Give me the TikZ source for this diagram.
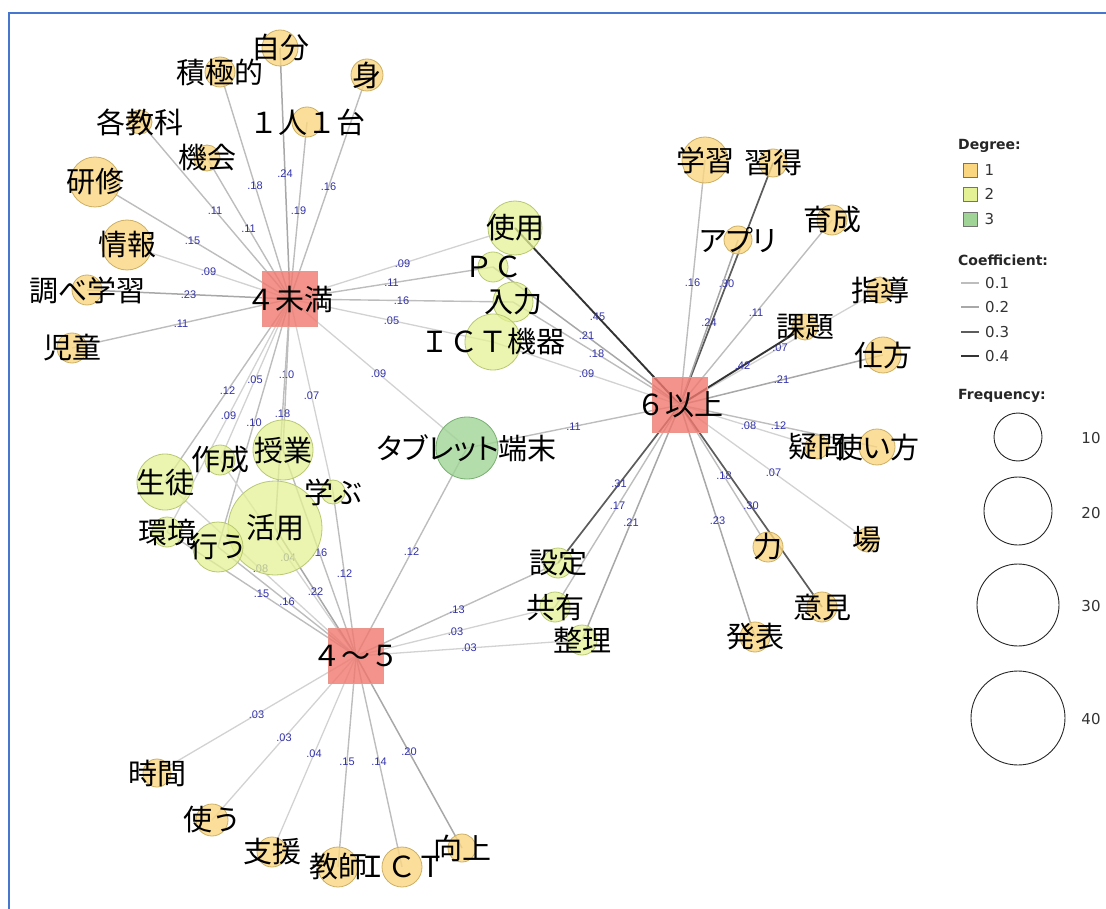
\documentclass[tikz,border=0pt]{standalone}
\usepackage{fontspec}
\newfontfamily\jpfont{Noto Sans CJK JP}
\newfontfamily\jpkana[RawFeature=+palt]{Noto Sans CJK JP}
\newfontfamily\numfont{Liberation Sans}
\newfontfamily\legfont{DejaVu Sans}
\usetikzlibrary{positioning,backgrounds}
\definecolor{deg1}{RGB}{250,214,128}
\definecolor{deg1line}{RGB}{205,175,100}
\definecolor{deg2}{RGB}{228,241,148}
\definecolor{deg2line}{RGB}{185,200,115}
\definecolor{deg3}{RGB}{160,212,150}
\definecolor{deg3line}{RGB}{120,175,112}
\definecolor{grpfill}{RGB}{240,120,110}
\definecolor{grpline}{RGB}{235,150,140}
\definecolor{coefblue}{RGB}{50,50,170}
\definecolor{framblue}{RGB}{70,118,205}

\tikzset{
  w1/.style={circle,draw=deg1line,fill=deg1,fill opacity=0.8,line width=0.8pt,inner sep=0pt},
  w2/.style={circle,draw=deg2line,fill=deg2,fill opacity=0.75,line width=0.8pt,inner sep=0pt},
  w3/.style={circle,draw=deg3line,fill=deg3,fill opacity=0.8,line width=0.8pt,inner sep=0pt},
  grp/.style={rectangle,draw=grpline,fill=grpfill,fill opacity=0.8,minimum size=55,inner sep=0pt},
  word/.style={font=\jpfont\fontsize{29}{29}\selectfont,inner sep=0pt},
  kana/.style={font=\jpkana\fontsize{29}{29}\selectfont,inner sep=0pt},
  coef/.style={font=\numfont\fontsize{11}{11}\selectfont,text=coefblue,inner sep=0pt},
  c0/.style={draw=gray!35,line width=1.3pt},
  c1/.style={draw=gray!52,line width=1.4pt},
  c2/.style={draw=gray!68,line width=1.5pt},
  c3/.style={draw=black!64,line width=1.7pt},
  c4/.style={draw=black!80,line width=1.9pt},
  legtitle/.style={font=\legfont\bfseries\fontsize{14}{14}\selectfont,text=black!85,inner sep=0pt,anchor=west},
  legnum/.style={font=\legfont\fontsize{15}{15}\selectfont,text=black!80,inner sep=0pt},
  legbox/.style={rectangle,draw=black!55,line width=0.6pt,minimum size=14,inner sep=0pt},
  freq/.style={circle,draw=black!85,line width=0.9pt,inner sep=0pt},
}

\begin{document}
\begin{tikzpicture}[x=1pt,y=-1pt]
  \useasboundingbox (0,0) rectangle (1106,909);
  \draw[framblue,line width=2.5pt] (9,909) -- (9,13) -- (1106,13);

  % groups
  \node[grp] (lt4) at (290,299) {};
  \node[grp] (ge6) at (680,405) {};
  \node[grp] (r45) at (356,656) {};

  % degree 2 and 3 words
  \node[w2,minimum size=54] (shiyo) at (515,228) {};
  \node[w2,minimum size=30] (pc) at (493,267) {};
  \node[w2,minimum size=40] (nyuryoku) at (513,302) {};
  \node[w2,minimum size=56] (ictkiki) at (493,342) {};
  \node[w3,minimum size=62] (tablet) at (467,448) {};
  \node[w2,minimum size=56] (seito) at (165,482) {};
  \node[w2,minimum size=30] (sakusei) at (220,460) {};
  \node[w2,minimum size=60] (jugyo) at (283,450) {};
  \node[w2,minimum size=24] (manabu) at (333,492) {};
  \node[w2,minimum size=94] (katsuyo) at (275,528) {};
  \node[w2,minimum size=30] (kankyo) at (167,532) {};
  \node[w2,minimum size=50] (okonau) at (218,547) {};
  \node[w2,minimum size=30] (settei) at (558,563) {};
  \node[w2,minimum size=30] (kyoyu) at (555,607) {};
  \node[w2,minimum size=30] (seiri) at (582,640) {};

  % degree 1 words
  \node[w1,minimum size=36] (jibun) at (280,48) {};
  \node[w1,minimum size=30] (sekkyoku) at (220,72) {};
  \node[w1,minimum size=32] (mi) at (367,75) {};
  \node[w1,minimum size=30] (hitori) at (307,122) {};
  \node[w1,minimum size=24] (kakukyoka) at (140,122) {};
  \node[w1,minimum size=26] (kikai) at (207,158) {};
  \node[w1,minimum size=50] (kenshu) at (95,182) {};
  \node[w1,minimum size=50] (joho) at (127,245) {};
  \node[w1,minimum size=30] (shirabe) at (87,290) {};
  \node[w1,minimum size=30] (jido) at (72,348) {};
  \node[w1,minimum size=46] (gakushu) at (705,160) {};
  \node[w1,minimum size=28] (shutoku) at (773,163) {};
  \node[w1,minimum size=28] (apuri) at (738,240) {};
  \node[w1,minimum size=30] (ikusei) at (832,220) {};
  \node[w1,minimum size=26] (shido) at (880,290) {};
  \node[w1,minimum size=26] (kadai) at (805,327) {};
  \node[w1,minimum size=36] (shikata) at (883,355) {};
  \node[w1,minimum size=24] (gimon) at (817,447) {};
  \node[w1,minimum size=36] (tsukaikata) at (877,447) {};
  \node[w1,minimum size=24] (ba) at (867,540) {};
  \node[w1,minimum size=30] (chikara) at (768,547) {};
  \node[w1,minimum size=30] (iken) at (822,607) {};
  \node[w1,minimum size=30] (happyo) at (755,637) {};
  \node[w1,minimum size=28] (jikan) at (157,773) {};
  \node[w1,minimum size=32] (tsukau) at (212,820) {};
  \node[w1,minimum size=30] (shien) at (272,852) {};
  \node[w1,minimum size=40] (kyoshi) at (338,867) {};
  \node[w1,minimum size=40] (ict) at (402,867) {};
  \node[w1,minimum size=28] (kojo) at (462,848) {};

  \begin{scope}[on background layer]
    % 4 and under
    \draw[c1] (lt4.center) -- (sekkyoku.center) node[midway,coef]{.18};
    \draw[c2] (lt4.center) -- (jibun.center) node[midway,coef]{.24};
    \draw[c1] (lt4.center) -- (mi.center) node[midway,coef]{.16};
    \draw[c1] (lt4.center) -- (hitori.center) node[midway,coef]{.19};
    \draw[c1] (lt4.center) -- (kakukyoka.center) node[midway,coef]{.11};
    \draw[c1] (lt4.center) -- (kikai.center) node[midway,coef]{.11};
    \draw[c1] (lt4.center) -- (kenshu.center) node[midway,coef]{.15};
    \draw[c0] (lt4.center) -- (joho.center) node[midway,coef]{.09};
    \draw[c2] (lt4.center) -- (shirabe.center) node[midway,coef]{.23};
    \draw[c1] (lt4.center) -- (jido.center) node[midway,coef]{.11};
    \draw[c0] (lt4.center) -- (shiyo.center) node[midway,coef]{.09};
    \draw[c1] (lt4.center) -- (pc.center) node[midway,coef]{.11};
    \draw[c1] (lt4.center) -- (nyuryoku.center) node[midway,coef]{.16};
    \draw[c0] (lt4.center) -- (ictkiki.center) node[midway,coef]{.05};
    \draw[c0] (lt4.center) -- (tablet.center) node[midway,coef]{.09};
    \draw[c1] (lt4.center) -- (seito.center) node[midway,coef]{.12};
    \draw[c0] (lt4.center) -- (sakusei.center) node[midway,coef]{.05};
    \draw[c1] (lt4.center) -- (jugyo.center) node[midway,coef]{.10};
    \draw[c0] (lt4.center) -- (manabu.center) node[midway,coef]{.07};
    \draw[c1] (lt4.center) -- (katsuyo.center) node[midway,coef]{.18};
    \draw[c0] (lt4.center) -- (kankyo.center) node[midway,coef]{.09};
    \draw[c1] (lt4.center) -- (okonau.center) node[midway,coef]{.10};
    % 6 and over
    \draw[c4] (ge6.center) -- (shiyo.center) node[midway,coef]{.45};
    \draw[c2] (ge6.center) -- (pc.center) node[midway,coef]{.21};
    \draw[c1] (ge6.center) -- (nyuryoku.center) node[midway,coef]{.18};
    \draw[c0] (ge6.center) -- (ictkiki.center) node[midway,coef]{.09};
    \draw[c1] (ge6.center) -- (tablet.center) node[midway,coef]{.11};
    \draw[c1] (ge6.center) -- (gakushu.center) node[midway,coef]{.16};
    \draw[c3] (ge6.center) -- (shutoku.center) node[midway,coef]{.30};
    \draw[c2] (ge6.center) -- (apuri.center) node[midway,coef]{.24};
    \draw[c1] (ge6.center) -- (ikusei.center) node[midway,coef]{.11};
    \draw[c0] (ge6.center) -- (shido.center) node[midway,coef]{.07};
    \draw[c4] (ge6.center) -- (kadai.center) node[midway,coef]{.42};
    \draw[c2] (ge6.center) -- (shikata.center) node[midway,coef]{.21};
    \draw[c0] (ge6.center) -- (gimon.center) node[midway,coef]{.08};
    \draw[c1] (ge6.center) -- (tsukaikata.center) node[midway,coef]{.12};
    \draw[c0] (ge6.center) -- (ba.center) node[midway,coef]{.07};
    \draw[c1] (ge6.center) -- (chikara.center) node[midway,coef]{.18};
    \draw[c3] (ge6.center) -- (iken.center) node[midway,coef]{.30};
    \draw[c2] (ge6.center) -- (happyo.center) node[midway,coef]{.23};
    \draw[c3] (ge6.center) -- (settei.center) node[midway,coef]{.31};
    \draw[c1] (ge6.center) -- (kyoyu.center) node[midway,coef]{.17};
    \draw[c2] (ge6.center) -- (seiri.center) node[midway,coef]{.21};
    % 4 to 5
    \draw[c1] (r45.center) -- (settei.center) node[midway,coef]{.13};
    \draw[c0] (r45.center) -- (kyoyu.center) node[midway,coef]{.03};
    \draw[c0] (r45.center) -- (seiri.center) node[midway,coef]{.03};
    \draw[c1] (r45.center) -- (tablet.center) node[midway,coef]{.12};
    \draw[c0] (r45.center) -- (jikan.center) node[midway,coef]{.03};
    \draw[c0] (r45.center) -- (tsukau.center) node[midway,coef]{.03};
    \draw[c0] (r45.center) -- (shien.center) node[midway,coef]{.04};
    \draw[c1] (r45.center) -- (kyoshi.center) node[midway,coef]{.15};
    \draw[c1] (r45.center) -- (ict.center) node[midway,coef]{.14};
    \draw[c2] (r45.center) -- (kojo.center) node[midway,coef]{.20};
    \draw[c0] (r45.center) -- (seito.center) node[midway,coef]{.08};
    \draw[c0] (r45.center) -- (sakusei.center) node[midway,coef]{.04};
    \draw[c1] (r45.center) -- (jugyo.center) node[midway,coef]{.16};
    \draw[c1] (r45.center) -- (manabu.center) node[midway,coef]{.12};
    \draw[c2] (r45.center) -- (katsuyo.center) node[midway,coef]{.22};
    \draw[c1] (r45.center) -- (kankyo.center) node[midway,coef]{.15};
    \draw[c1] (r45.center) -- (okonau.center) node[midway,coef]{.16};
  \end{scope}

  % words on top
  \node[word] (lt4-t) at (lt4) {４未満};
  \node[word] (ge6-t) at (ge6) {６以上};
  \node[word] (r45-t) at (r45) {４～５};
  \node[word] (shiyo-t) at (shiyo) {使用};
  \node[word] (pc-t) at (pc) {ＰＣ};
  \node[word] (nyuryoku-t) at (nyuryoku) {入力};
  \node[word] (ictkiki-t) at (ictkiki) {ＩＣＴ機器};
  \node[kana] (tablet-t) at (tablet) {タブレット端末};
  \node[word] (seito-t) at (seito) {生徒};
  \node[word] (sakusei-t) at (sakusei) {作成};
  \node[word] (jugyo-t) at (jugyo) {授業};
  \node[word] (manabu-t) at (manabu) {学ぶ};
  \node[word] (katsuyo-t) at (katsuyo) {活用};
  \node[word] (kankyo-t) at (kankyo) {環境};
  \node[word] (okonau-t) at (okonau) {行う};
  \node[word] (settei-t) at (settei) {設定};
  \node[word] (kyoyu-t) at (kyoyu) {共有};
  \node[word] (seiri-t) at (seiri) {整理};
  \node[word] (jibun-t) at (jibun) {自分};
  \node[word] (sekkyoku-t) at (sekkyoku) {積極的};
  \node[word] (mi-t) at (mi) {身};
  \node[word] (hitori-t) at (hitori) {１人１台};
  \node[word] (kakukyoka-t) at (kakukyoka) {各教科};
  \node[word] (kikai-t) at (kikai) {機会};
  \node[word] (kenshu-t) at (kenshu) {研修};
  \node[word] (joho-t) at (joho) {情報};
  \node[word] (shirabe-t) at (shirabe) {調べ学習};
  \node[word] (jido-t) at (jido) {児童};
  \node[word] (gakushu-t) at (gakushu) {学習};
  \node[word] (shutoku-t) at (shutoku) {習得};
  \node[kana] (apuri-t) at (apuri) {アプリ};
  \node[word] (ikusei-t) at (ikusei) {育成};
  \node[word] (shido-t) at (shido) {指導};
  \node[word] (kadai-t) at (kadai) {課題};
  \node[word] (shikata-t) at (shikata) {仕方};
  \node[word] (gimon-t) at (gimon) {疑問};
  \node[kana] (tsukaikata-t) at (tsukaikata) {使い方};
  \node[word] (ba-t) at (ba) {場};
  \node[word] (chikara-t) at (chikara) {力};
  \node[word] (iken-t) at (iken) {意見};
  \node[word] (happyo-t) at (happyo) {発表};
  \node[word] (jikan-t) at (jikan) {時間};
  \node[word] (tsukau-t) at (tsukau) {使う};
  \node[word] (shien-t) at (shien) {支援};
  \node[word] (kyoshi-t) at (kyoshi) {教師};
  \node[word] (ict-t) at (ict) {ＩＣＴ};
  \node[word] (kojo-t) at (kojo) {向上};

  % legend
  \node[legtitle] (degT) at (958,146) {Degree:};
  \node[legbox,fill=deg1] (box1) at (970,170) {};
  \node[legbox,fill=deg2] (box2) at (970,194) {};
  \node[legbox,fill=deg3] (box3) at (970,219) {};
  \node[legnum,right=7pt of box1] (d1) {1};
  \node[legnum,right=7pt of box2] (d2) {2};
  \node[legnum,right=7pt of box3] (d3) {3};
  \node[legtitle] (coefT) at (958,260) {Coefficient:};
  \node[legnum,anchor=west] (k1) at (985,283) {0.1};
  \node[legnum,anchor=west] (k2) at (985,307) {0.2};
  \node[legnum,anchor=west] (k3) at (985,332) {0.3};
  \node[legnum,anchor=west] (k4) at (985,356) {0.4};
  \draw[c1] ([xshift=-24pt]k1.west) -- ([xshift=-6pt]k1.west);
  \draw[c2] ([xshift=-24pt]k2.west) -- ([xshift=-6pt]k2.west);
  \draw[c3] ([xshift=-24pt]k3.west) -- ([xshift=-6pt]k3.west);
  \draw[c4] ([xshift=-24pt]k4.west) -- ([xshift=-6pt]k4.west);
  \node[legtitle] (freqT) at (958,396) {Frequency:};
  \node[freq,minimum size=48] (f10) at (1018,437) {};
  \node[freq,minimum size=68] (f20) at (1018,511) {};
  \node[freq,minimum size=82] (f30) at (1018,605) {};
  \node[freq,minimum size=94] (f40) at (1018,718) {};
  \node[legnum] (f10-t) at (1091,438) {10};
  \node[legnum] (f20-t) at (1091,513) {20};
  \node[legnum] (f30-t) at (1091,606) {30};
  \node[legnum] (f40-t) at (1091,719) {40};
\end{tikzpicture}
\end{document}
